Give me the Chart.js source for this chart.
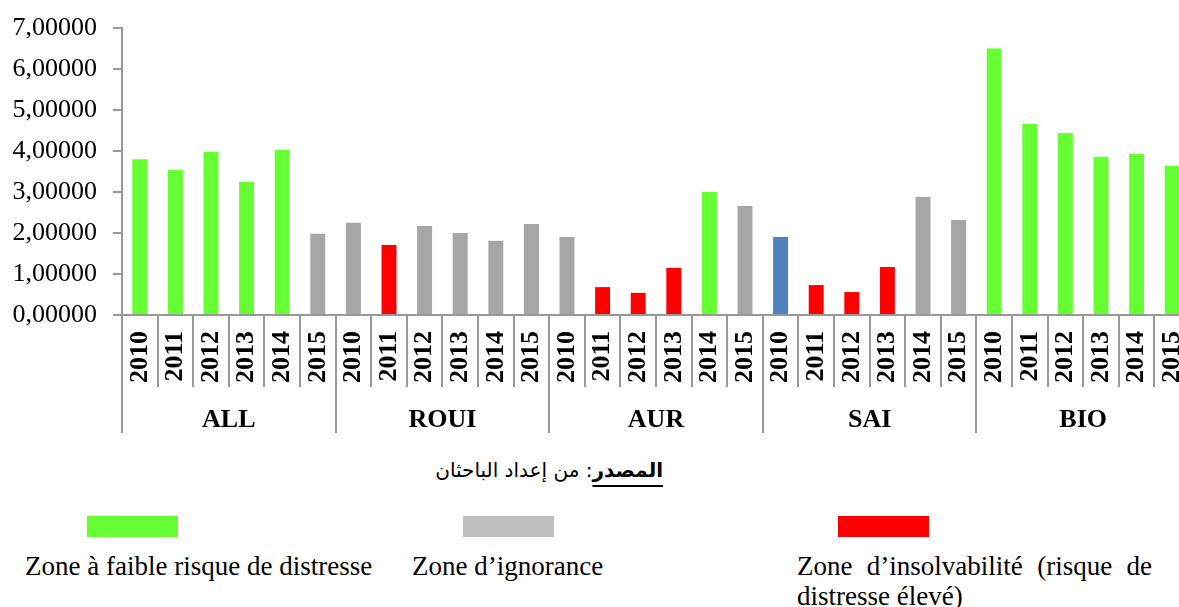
<!DOCTYPE html>
<html>
<head>
<meta charset="utf-8">
<script src="https://cdn.jsdelivr.net/npm/chart.js@4/dist/chart.umd.min.js"></script>
<style>
  body { margin: 0; background: #fff; width: 1179px; height: 607px; overflow: hidden; position: relative; font-family: "Liberation Serif", "Times New Roman", serif; }
  #wrap { position: absolute; left: 0; top: 0; width: 1179px; height: 445px; overflow: hidden; }
  #box { position: relative; width: 1190px; height: 445px; }
  .source { position: absolute; top: 458px; left: 380px; width: 283px; text-align: right; direction: rtl; font-family: "DejaVu Sans", sans-serif; font-size: 20px; color: #000; }
  .source b { text-decoration: underline; text-decoration-thickness: 2px; text-underline-offset: 8px; }
  .swatch { position: absolute; top: 516px; width: 91px; height: 21px; }
  .zone { position: absolute; top: 551px; font-size: 27px; line-height: 30px; color: #000; white-space: nowrap; }
  .zone.wide { white-space: normal; text-align: justify; width: 355px; }
</style>
</head>
<body>
<div id="wrap"><div id="box"><canvas id="zChart"></canvas></div></div>
<div class="source"><b>المصدر</b>: من إعداد الباحثان</div>
<div id="legend"></div>

<script>
// --- DATA ---
const groups = ['ALL', 'ROUI', 'AUR', 'SAI', 'BIO'];
const years = ['2010', '2011', '2012', '2013', '2014', '2015'];

const allValues  = [3.80, 3.54, 3.98, 3.25, 4.03, 1.98];
const rouiValues = [2.25, 1.71, 2.17, 2.00, 1.81, 2.22];
const aurValues  = [1.90, 0.68, 0.54, 1.15, 3.00, 2.66];
const saiValues  = [1.90, 0.73, 0.56, 1.17, 2.88, 2.32];
const bioValues  = [6.50, 4.66, 4.44, 3.86, 3.93, 3.64];

// zone of each bar: f = faible risque, i = ignorance, s = insolvabilité, b = autre
const allZones  = ['f', 'f', 'f', 'f', 'f', 'i'];
const rouiZones = ['i', 's', 'i', 'i', 'i', 'i'];
const aurZones  = ['i', 's', 's', 's', 'f', 'i'];
const saiZones  = ['b', 's', 's', 's', 'i', 'i'];
const bioZones  = ['f', 'f', 'f', 'f', 'f', 'f'];

const yTicks = [0, 1, 2, 3, 4, 5, 6, 7];

const zoneColors = { f: '#66ff33', i: '#a6a6a6', s: '#ff0000', b: '#4f81bd' };

const legendLabels = ['Zone à faible risque de distresse', 'Zone d’ignorance', 'Zone d’insolvabilité (risque de distresse élevé)'];
const legendColors = ['#66ff33', '#bfbfbf', '#ff0000'];

// --- BUILD ---
const values = [].concat(allValues, rouiValues, aurValues, saiValues, bioValues);
const zones = [].concat(allZones, rouiZones, aurZones, saiZones, bioZones);
const labels = [];
groups.forEach(() => years.forEach(y => labels.push(y)));

const AXIS_GREY = '#999999';

// separators between years / groups and group names under the axis
const groupAxis = {
    id: 'groupAxis',
    afterDraw(chart) {
        const ctx = chart.ctx;
        const xs = chart.scales.x;
        const half = (xs.getPixelForValue(1) - xs.getPixelForValue(0)) / 2;
        ctx.save();
        ctx.strokeStyle = AXIS_GREY;
        ctx.lineWidth = 2;
        for (let i = 0; i <= labels.length; i++) {
            const x = Math.round(xs.getPixelForValue(Math.min(i, labels.length - 1)) + (i === labels.length ? half : -half));
            const len = i % years.length === 0 ? 118 : 72;
            ctx.beginPath();
            ctx.moveTo(x, xs.top);
            ctx.lineTo(x, xs.top + len);
            ctx.stroke();
        }
        ctx.fillStyle = '#000';
        ctx.font = 'bold 26px "Liberation Serif"';
        ctx.textAlign = 'center';
        ctx.textBaseline = 'alphabetic';
        groups.forEach((g, gi) => {
            const a = xs.getPixelForValue(gi * years.length);
            const b = xs.getPixelForValue(gi * years.length + years.length - 1);
            ctx.fillText(g, (a + b) / 2, xs.top + 112);
        });
        ctx.restore();
    }
};

function drawChart() {
    new Chart(document.getElementById('zChart'), {
        type: 'bar',
        data: {
            labels: labels,
            datasets: [{
                data: values,
                backgroundColor: zones.map(z => zoneColors[z]),
                borderWidth: 0,
                categoryPercentage: 1,
                barPercentage: 0.42
            }]
        },
        options: {
            responsive: true,
            maintainAspectRatio: false,
            animation: false,
            layout: { padding: { top: 28, left: 0, right: 0, bottom: 0 } },
            plugins: { legend: { display: false }, tooltip: { enabled: false } },
            scales: {
                x: {
                    offset: true,
                    grid: { display: false, drawTicks: false },
                    border: { display: true, color: AXIS_GREY, width: 2 },
                    ticks: {
                        autoSkip: false, minRotation: 90, maxRotation: 90, padding: 16,
                        color: '#000',
                        font: { family: "'Liberation Serif', serif", size: 26, weight: 'bold' }
                    },
                    afterFit: s => { s.height = 130; s.paddingLeft = 0; s.paddingRight = 0; }
                },
                y: {
                    min: 0, max: 7,
                    afterBuildTicks: s => { s.ticks = yTicks.map(v => ({ value: v })); },
                    grid: { drawOnChartArea: false, tickLength: 9, color: AXIS_GREY, lineWidth: 2 },
                    border: { color: AXIS_GREY, width: 2 },
                    ticks: {
                        padding: 16, color: '#000',
                        font: { family: "'Liberation Serif', serif", size: 26 },
                        callback: v => v.toFixed(5).replace('.', ',')
                    },
                    afterFit: s => { s.width = 122; s.paddingTop = 0; s.paddingBottom = 0; }
                }
            }
        },
        plugins: [groupAxis]
    });
}

// --- LEGEND (boxes above, names below) ---
const legendBoxX = [87, 463, 838];
const legendTextX = [25, 412, 797];
const legendEl = document.getElementById('legend');
legendLabels.forEach((name, i) => {
    const sw = document.createElement('div');
    sw.className = 'swatch';
    sw.style.left = legendBoxX[i] + 'px';
    sw.style.background = legendColors[i];
    legendEl.appendChild(sw);
    const t = document.createElement('div');
    t.className = 'zone' + (i === 2 ? ' wide' : '');
    t.style.left = legendTextX[i] + 'px';
    t.textContent = name;
    legendEl.appendChild(t);
});

Promise.all([
    document.fonts.load('26px "Liberation Serif"'),
    document.fonts.load('bold 26px "Liberation Serif"')
]).then(drawChart, drawChart);
</script>
</body>
</html>
